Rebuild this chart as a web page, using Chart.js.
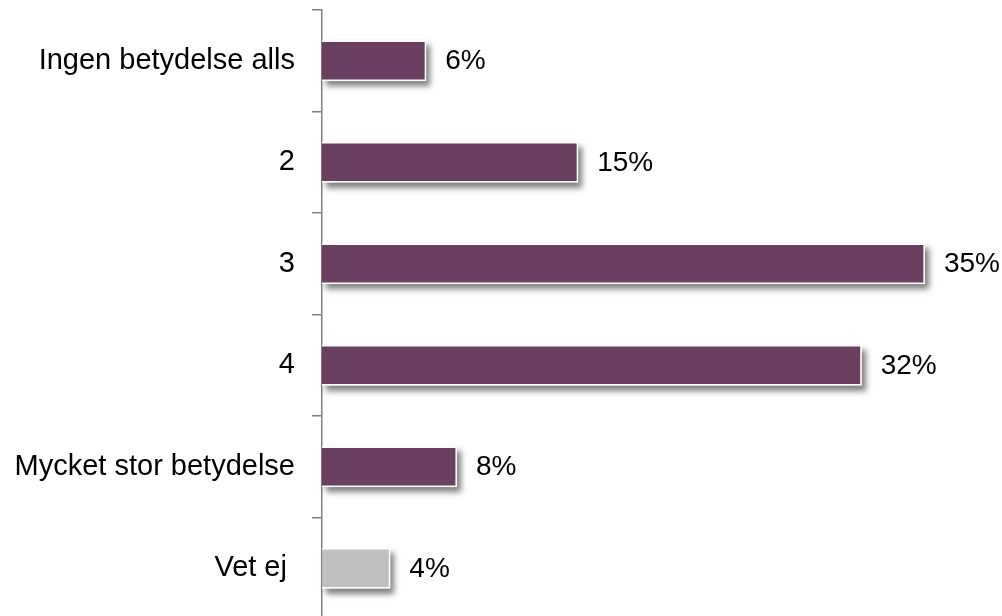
<!DOCTYPE html>
<html>
<head>
<meta charset="utf-8">
<script src="https://cdn.jsdelivr.net/npm/chart.js@4"></script>
<style>
  html, body { margin: 0; padding: 0; background: #fff; overflow: hidden; }
  #wrap { position: relative; width: 1002px; height: 620px; }
</style>
</head>
<body>
<div id="wrap"><canvas id="betydelseChart"></canvas></div>
<script>
const categories = ["Ingen betydelse alls", "2", "3", "4", "Mycket stor betydelse", "Vet ej "];
const shares = [6.1, 15.0, 35.3, 31.6, 7.9, 4.0];
const barColors = ["#6b3f5f", "#6b3f5f", "#6b3f5f", "#6b3f5f", "#6b3f5f", "#c0c0c0"];

// soft drop shadow behind each bar
const barShadow = {
  id: "barShadow",
  beforeDatasetsDraw(chart) {
    const ctx = chart.ctx;
    chart.getDatasetMeta(0).data.forEach(function (bar) {
      const h = bar.height;
      ctx.save();
      ctx.shadowColor = "rgba(0, 0, 0, 0.5)";
      ctx.shadowBlur = 6;
      ctx.shadowOffsetX = 4;
      ctx.shadowOffsetY = 5;
      ctx.fillStyle = "#ffffff";
      ctx.fillRect(bar.base, bar.y - h / 2, bar.x - bar.base, h);
      ctx.restore();
    });
  }
};

// percentage labels to the right of the bars
const valueLabels = {
  id: "valueLabels",
  afterDatasetsDraw(chart) {
    const ctx = chart.ctx;
    ctx.save();
    ctx.font = "28px 'Liberation Sans', Arial, sans-serif";
    ctx.fillStyle = "#000";
    ctx.textAlign = "left";
    ctx.textBaseline = "middle";
    chart.getDatasetMeta(0).data.forEach(function (bar, i) {
      ctx.fillText(Math.round(shares[i]) + "%", bar.x + 19, bar.y + 1);
    });
    ctx.restore();
  }
};

new Chart(document.getElementById("betydelseChart"), {
  type: "bar",
  data: {
    labels: categories,
    datasets: [{
      data: shares,
      backgroundColor: barColors,
      borderColor: "#ffffff",
      borderWidth: 1.5,
      categoryPercentage: 1,
      barPercentage: 0.4
    }]
  },
  options: {
    indexAxis: "y",
    responsive: true,
    maintainAspectRatio: false,
    animation: false,
    layout: { padding: { top: 10, right: 31, bottom: 1, left: 0 } },
    scales: {
      x: {
        display: false,
        min: 0,
        max: 38
      },
      y: {
        afterFit: function (scale) {
          scale.width = 322;
          scale.paddingTop = 0;
          scale.paddingBottom = 0;
        },
        border: { color: "#808080", width: 1.5 },
        grid: {
          drawOnChartArea: false,
          offset: true,
          color: "#808080",
          lineWidth: 1.5,
          tickLength: 10
        },
        ticks: {
          color: "#000",
          padding: 17,
          font: { family: "'Liberation Sans', Arial, sans-serif", size: 29 }
        }
      }
    },
    plugins: {
      legend: { display: false },
      tooltip: { enabled: false }
    }
  },
  plugins: [barShadow, valueLabels]
});
</script>
</body>
</html>
